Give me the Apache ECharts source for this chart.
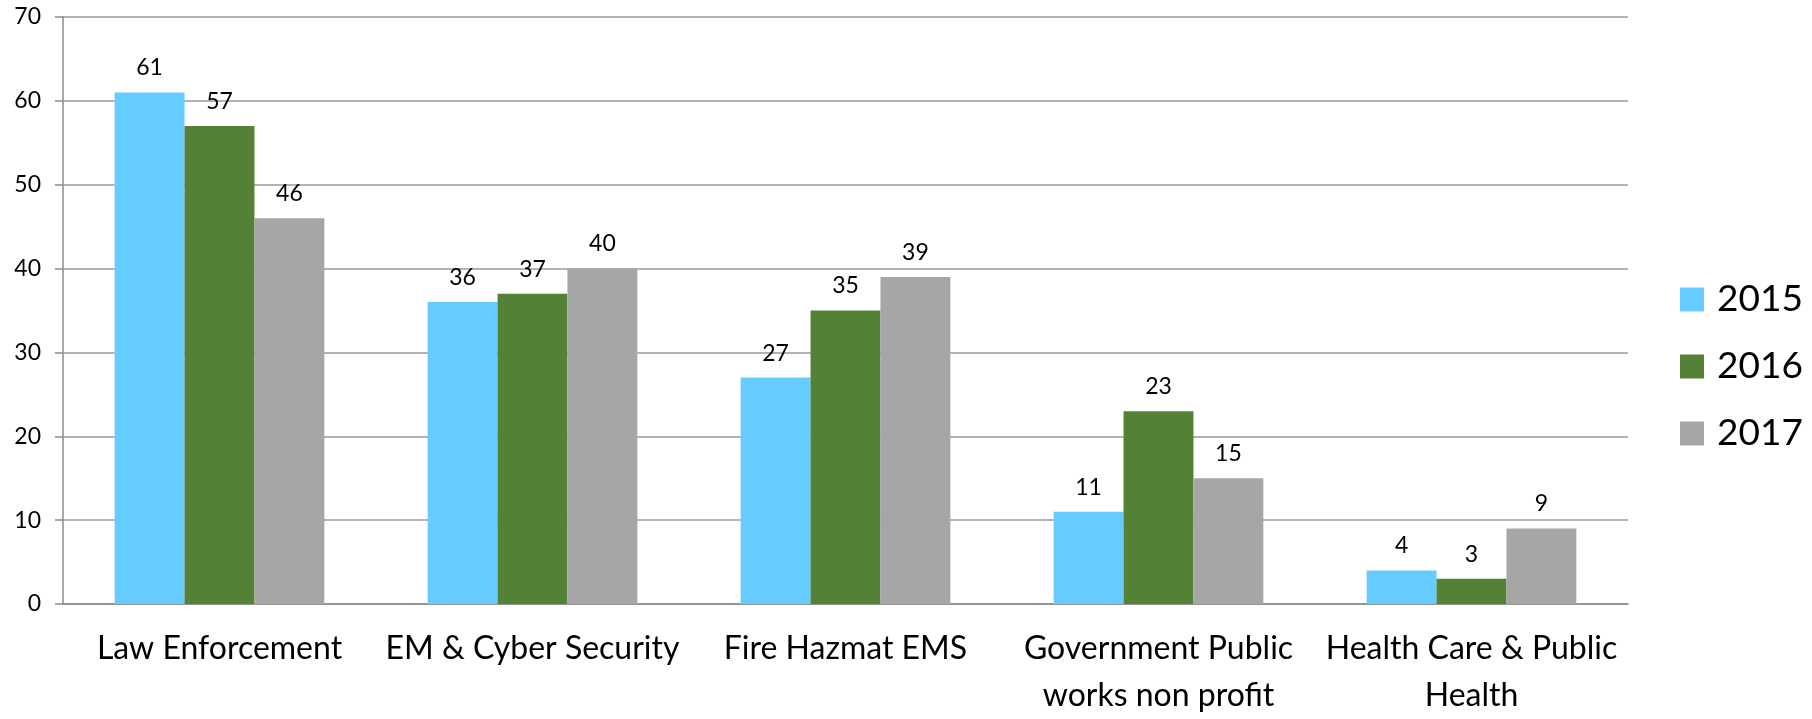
<!DOCTYPE html>
<html>
<head>
<meta charset="utf-8">
<script src="https://cdn.jsdelivr.net/npm/echarts@6/dist/echarts.min.js"></script>
<style>
html,body{margin:0;padding:0;background:#fff;}
#chart{width:1812px;height:719px;}
</style>
</head>
<body>
<div id="chart"></div>
<script>
const categories = ['Law Enforcement', 'EM & Cyber Security', 'Fire Hazmat EMS', 'Government Public\nworks non profit', 'Health Care & Public\nHealth'];
const seriesNames = ['2015', '2016', '2017'];
const values2015 = [61, 36, 27, 11, 4];
const values2016 = [57, 37, 35, 23, 3];
const values2017 = [46, 40, 39, 15, 9];
const colors = ['#66CCFF', '#538135', '#A6A6A6'];
const FONT = 'Lato, "Open Sans", sans-serif';

const chart = echarts.init(document.getElementById('chart'));
const allValues = [values2015, values2016, values2017];
chart.setOption({
  animation: false,
  backgroundColor: '#fff',
  textStyle: { fontFamily: FONT },
  grid: { left: 63, right: 184, top: 17, bottom: 112, containLabel: false },
  legend: {
    orient: 'vertical',
    left: 1675,
    top: 276,
    itemWidth: 24,
    itemHeight: 24,
    itemGap: 30,
    icon: 'rect',
    textStyle: { fontSize: 37, color: '#000', fontFamily: FONT, padding: [0, 0, 0, 8] },
    data: seriesNames
  },
  xAxis: {
    type: 'category',
    data: categories,
    axisLine: { lineStyle: { color: '#8c8c8c', width: 1.5 } },
    axisTick: { length: 10, lineStyle: { color: '#8c8c8c', width: 1.5 } },
    axisLabel: { fontSize: 32, color: '#000', fontFamily: FONT, margin: 21, lineHeight: 47, interval: 0 }
  },
  yAxis: {
    type: 'value',
    min: 0, max: 70, interval: 10,
    axisLine: { show: true, lineStyle: { color: '#8c8c8c', width: 1.5 } },
    axisTick: { show: true, length: 8, lineStyle: { color: '#8c8c8c', width: 1.5 } },
    splitLine: { lineStyle: { color: '#9a9a9a', width: 1.5 } },
    axisLabel: { fontSize: 23, color: '#000', fontFamily: FONT, margin: 22 }
  },
  series: seriesNames.map((n, i) => ({
    name: n,
    type: 'bar',
    data: allValues[i],
    barGap: '0%',
    barCategoryGap: '33%',
    itemStyle: { color: colors[i] },
    label: { show: true, position: 'top', distance: 13, fontSize: 23, color: '#000', fontFamily: FONT }
  }))
});
</script>
</body>
</html>
